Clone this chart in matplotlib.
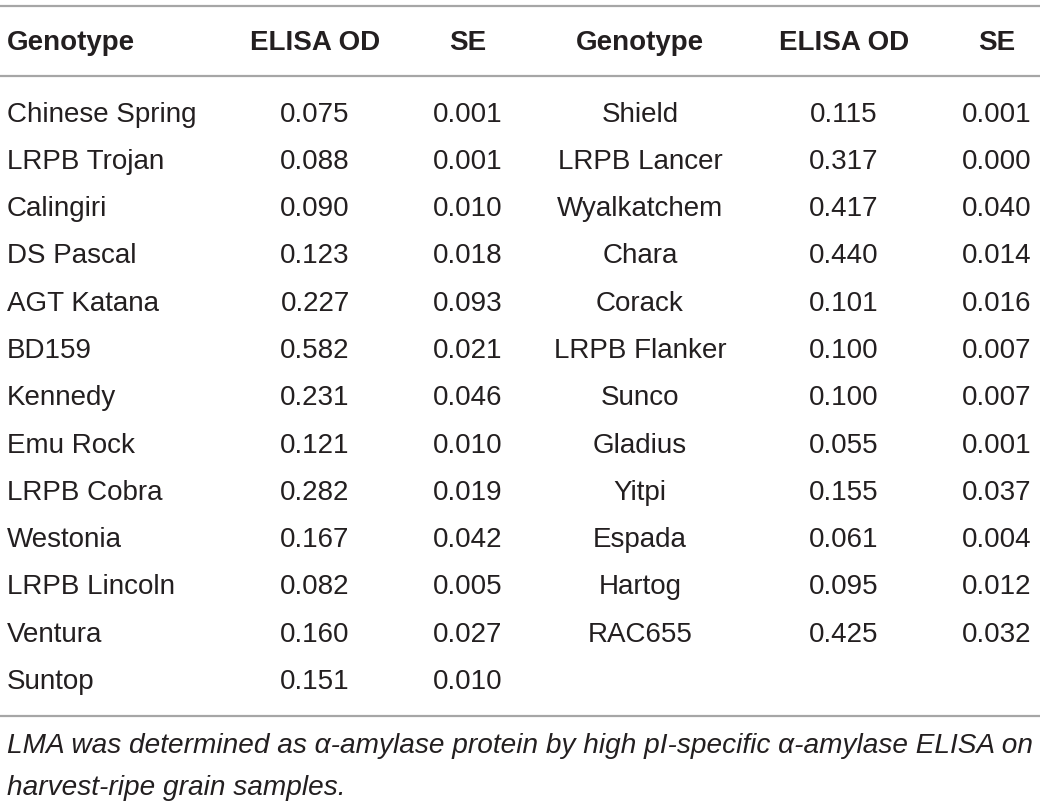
import matplotlib.pyplot as plt

genotypes_left = ["Chinese Spring", "LRPB Trojan", "Calingiri", "DS Pascal", "AGT Katana",
                  "BD159", "Kennedy", "Emu Rock", "LRPB Cobra", "Westonia",
                  "LRPB Lincoln", "Ventura", "Suntop"]
od_left = [0.075, 0.088, 0.090, 0.123, 0.227, 0.582, 0.231, 0.121, 0.282, 0.167, 0.082, 0.160, 0.151]
se_left = [0.001, 0.001, 0.010, 0.018, 0.093, 0.021, 0.046, 0.010, 0.019, 0.042, 0.005, 0.027, 0.010]

genotypes_right = ["Shield", "LRPB Lancer", "Wyalkatchem", "Chara", "Corack", "LRPB Flanker",
                   "Sunco", "Gladius", "Yitpi", "Espada", "Hartog", "RAC655"]
od_right = [0.115, 0.317, 0.417, 0.440, 0.101, 0.100, 0.100, 0.055, 0.155, 0.061, 0.095, 0.425]
se_right = [0.001, 0.000, 0.040, 0.014, 0.016, 0.007, 0.007, 0.001, 0.037, 0.004, 0.012, 0.032]

headers = ["Genotype", "ELISA OD", "SE", "Genotype", "ELISA OD", "SE"]
note = ("LMA was determined as \u03b1-amylase protein by high pI-specific \u03b1-amylase ELISA on\n"
        "harvest-ripe grain samples.")

plt.rcParams['font.family'] = ['Liberation Sans', 'DejaVu Sans']
txt = '#231f20'
rule = '#a6a6a6'

fig = plt.figure(figsize=(10.4, 8.02), dpi=100)
ax = fig.add_axes([0, 0, 1, 1])
ax.set_xlim(0, 1040)
ax.set_ylim(802, 0)
ax.axis('off')

# column positions (x, alignment)
cols = [(7, 'left'), (315, 'center'), (468, 'center'), (640, 'center'), (844, 'center'), (997, 'center')]

for y in (6, 76, 716):
    ax.plot([0, 1040], [y, y], color=rule, lw=1.6, solid_capstyle='butt')

for (x, ha), h in zip(cols, headers):
    ax.text(x, 43, h, ha=ha, va='center', fontsize=20, fontweight='bold', color=txt)

row0 = 114.5
step = 47.3
for i, g in enumerate(genotypes_left):
    y = row0 + i * step
    ax.text(cols[0][0], y, g, ha='left', va='center', fontsize=20, color=txt)
    ax.text(cols[1][0], y, f"{od_left[i]:.3f}", ha='center', va='center', fontsize=20, color=txt)
    ax.text(cols[2][0], y, f"{se_left[i]:.3f}", ha='center', va='center', fontsize=20, color=txt)

for i, g in enumerate(genotypes_right):
    y = row0 + i * step
    ax.text(cols[3][0], y, g, ha='center', va='center', fontsize=20, color=txt)
    ax.text(cols[4][0], y, f"{od_right[i]:.3f}", ha='center', va='center', fontsize=20, color=txt)
    ax.text(cols[5][0], y, f"{se_right[i]:.3f}", ha='center', va='center', fontsize=20, color=txt)

ax.text(7, 733, note, ha='left', va='top', fontsize=20.2, style='italic', color=txt,
        linespacing=1.8)

fig.savefig('out.png', dpi=100)
